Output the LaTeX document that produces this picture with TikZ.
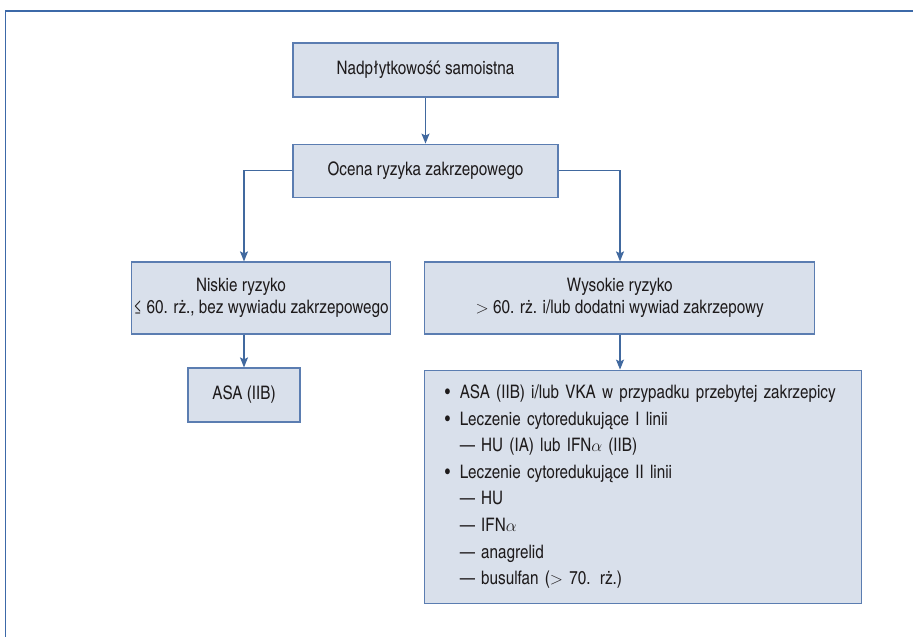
\documentclass[tikz,border=0pt]{standalone}
\usepackage{fontspec}
\setmainfont{texgyreheroscn-regular.otf}
\usepackage{tikz}
\usetikzlibrary{positioning,arrows.meta}
\definecolor{frameblue}{HTML}{3C69A8}
\definecolor{boxfill}{HTML}{D9E0EB}
\definecolor{boxline}{HTML}{5B7DB1}
\definecolor{linkblue}{HTML}{41699F}
\definecolor{txtgrey}{HTML}{1E1B1C}
\newcommand{\bul}{\makebox[15pt][l]{\textbullet}}
\newcommand{\dsh}{\hspace*{15pt}—\ }

\begin{document}
\begin{tikzpicture}[x=1pt,y=-1pt,font=\fontsize{18.6}{22}\selectfont,text=txtgrey]
	\tikzstyle{box}=[draw=boxline,fill=boxfill,line width=1.2pt,align=center,inner sep=2pt]
	\tikzstyle{link}=[draw=linkblue,line width=1.3pt,-{Stealth[length=10pt,width=8pt,inset=2pt]}]
	\useasboundingbox (0,0) rectangle (913,637);
	\draw[frameblue,line width=1.6pt] (5.3,637) -- (5.3,10.7) -- (913,10.7);
		\node[box, minimum width=265pt, minimum height=54pt] (start) at (425.5,70) {Nadpłytkowość samoistna};
		\node[box, minimum width=265pt, minimum height=53pt, below=46pt of start] (assess) {Ocena ryzyka zakrzepowego};
		\node[box, minimum width=248pt, minimum height=72pt] (low) at (261,298) {Niskie ryzyko\hspace*{40pt}\\≤ 60. rż., bez wywiadu zakrzepowego};
		\node[box, minimum width=390pt, minimum height=72pt, right=33pt of low] (high) {Wysokie ryzyko\\$>$ 60. rż. i/lub dodatni wywiad zakrzepowy};
		\node[box, minimum width=112pt, minimum height=54pt] (asa) at (244,395) {ASA (IIB)};
		\node[box, align=left, text width=397pt, inner xsep=20pt, minimum height=233pt,
			font=\fontsize{18.6}{26.6}\selectfont, below=35pt of high.south west, anchor=north west] (therapy)
			{\bul ASA (IIB) i/lub VKA w przypadku przebytej zakrzepicy\\
			\bul Leczenie cytoredukujące I linii\\
			\dsh HU (IA) lub IFN$\alpha$ (IIB)\\
			\bul Leczenie cytoredukujące II linii\\
			\dsh HU\\
			\dsh IFN$\alpha$\\
			\dsh anagrelid\\
			\dsh busulfan ($>$ 70. rż.)};
		\coordinate (hx) at (620,0);
			\draw[link] (start.south) -- (start.south |- assess.north);
			\draw[link] (assess.west) -| (asa.north |- low.north);
			\draw[link] (asa.north |- low.south) -- (asa.north);
			\draw[link] (assess.east) -| (hx |- high.north);
			\draw[link] (hx |- high.south) -- (hx |- therapy.north);
\end{tikzpicture}
\end{document}
